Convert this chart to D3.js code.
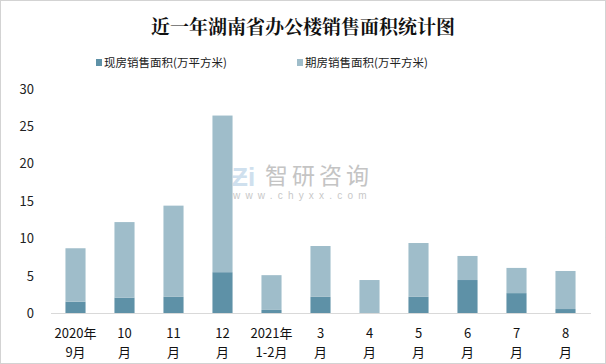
<!DOCTYPE html>
<html><head><meta charset="utf-8">
<script src="https://cdn.jsdelivr.net/npm/d3@7"></script>
<style>body{margin:0;background:#fff}svg{display:block}</style>
</head><body><svg id="c" width="606" height="364"></svg>
<script>
const categories = ["2020年\n9月","10\n月","11\n月","12\n月","2021年\n1-2月","3\n月","4\n月","5\n月","6\n月","7\n月","8\n月"];
const xianfang = [1.55,2.1,2.2,5.5,0.45,2.2,0,2.2,4.45,2.7,0.57];
const qifang = [7.15,10.1,12.2,20.95,4.65,6.8,4.45,7.2,3.22,3.37,5.09];
const seriesNames = ["现房销售面积(万平方米)","期房销售面积(万平方米)"];
const yTicks = [0,5,10,15,20,25,30];
const colors = ["#5e91a7","#9fbdca"];

const svg = d3.select("#c");
const font = "'Noto Sans CJK SC','Noto Sans',sans-serif";
svg.append("rect").attr("x",0.5).attr("y",0.5).attr("width",605).attr("height",363)
  .attr("fill","#fff").attr("stroke","#a6a6a6").attr("stroke-dasharray","1,1");

svg.append("text").attr("x",303).attr("y",34).attr("text-anchor","middle")
  .attr("font-family","'Noto Serif CJK SC','Noto Sans CJK SC',serif").attr("font-weight","bold")
  .attr("font-size",19).attr("fill","#111").text("近一年湖南省办公楼销售面积统计图");

// legend
const legX = [96,297];
seriesNames.forEach((n,i)=>{
  svg.append("rect").attr("x",legX[i]).attr("y",59).attr("width",6).attr("height",7).attr("fill",colors[i]);
  svg.append("text").attr("x",legX[i]+8).attr("y",67).attr("font-family",font).attr("font-size",11.5)
    .attr("fill","#222").text(n);
});

const x = d3.scaleBand().domain(categories).range([51,590]).paddingInner(0.59).paddingOuter(0.295);
const y = d3.scaleLinear().domain([0,30]).range([313.3,89]);

// watermark
const wm = svg.append("g");
wm.append("text").attr("x",232).attr("y",186).attr("font-family","Arial,sans-serif").attr("font-weight","bold")
  .attr("font-size",26).attr("fill","#cfe0ee").text("Ƶi");
wm.append("text").attr("x",265).attr("y",184).attr("font-family",font).attr("font-size",23)
  .attr("fill","#c4c4c4").attr("letter-spacing",4).text("智研咨询");
wm.append("text").attr("x",233).attr("y",199).attr("font-family","Arial,sans-serif").attr("font-size",10)
  .attr("fill","#c8c8c8").attr("letter-spacing",5.2).text("www.chyxx.com");

const stack = d3.stack().keys([0,1]).value((d,k)=>d[k]);
const rows = categories.map((c,i)=>({c, 0:xianfang[i], 1:qifang[i]}));
const layers = stack(rows);
layers.forEach((layer,k)=>{
  svg.append("g").selectAll("rect").data(layer).join("rect")
    .attr("x",d=>x(d.data.c)).attr("width",x.bandwidth())
    .attr("y",d=>y(d[1])).attr("height",d=>y(d[0])-y(d[1]))
    .attr("fill",colors[k]);
});

// axis line
svg.append("line").attr("x1",51).attr("x2",591).attr("y1",313.5).attr("y2",313.5)
  .attr("stroke","#d9d9d9").attr("stroke-width",1);

// y axis labels
const yAxis = d3.axisLeft(y).tickValues(yTicks).tickSize(0).tickPadding(0);
const ga = svg.append("g").attr("transform","translate(34,0)").call(yAxis);
ga.select(".domain").remove();
ga.selectAll("text").attr("font-family",font).attr("font-size",13).attr("fill","#222");

// x labels
const gx = svg.append("g");
categories.forEach(c=>{
  const lines = c.split("\n");
  const t = gx.append("text").attr("x",x(c)+x.bandwidth()/2).attr("text-anchor","middle")
    .attr("font-family",font).attr("font-size",13).attr("fill","#111");
  lines.forEach((l,j)=>t.append("tspan").attr("x",x(c)+x.bandwidth()/2).attr("y",338+j*19).text(l));
});
</script></body></html>
